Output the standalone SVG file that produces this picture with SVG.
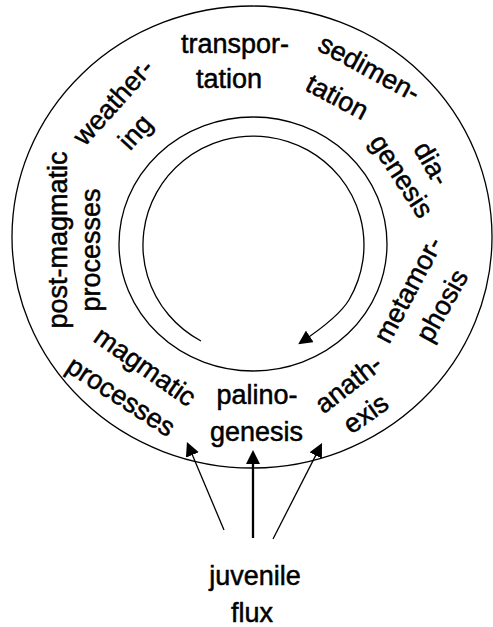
<svg xmlns="http://www.w3.org/2000/svg" width="493" height="627" viewBox="0 0 493 627">
<style>
text{font-family:"Liberation Sans",Arial,sans-serif;font-size:27px;fill:#000;stroke:#000;stroke-width:0.5;stroke-linejoin:round;text-anchor:middle}
.ring{fill:none;stroke:#000;stroke-width:1.3}
.thin{fill:none;stroke:#000;stroke-width:1.3}
.thick{fill:none;stroke:#000;stroke-width:2.3}
</style>
<defs>
<marker id="ah" markerUnits="userSpaceOnUse" markerWidth="14" markerHeight="14" viewBox="0 0 14 14" refX="10" refY="7" orient="auto">
<path d="M0,0 L14,7 L0,14 z" fill="#000"/>
</marker>
</defs>
<rect width="493" height="627" fill="#fff"/>
<g id="shapes">
<ellipse class="ring" cx="252" cy="237" rx="240" ry="231"/>
<ellipse class="ring" cx="253" cy="244" rx="134" ry="127"/>
</g>
<g id="connectors">
<path class="thin" d="M201,341 A110.5,109 0 1 1 349.2,299.5 Q339.1,316.8 301.5,342" marker-end="url(#ah)"/>
<line class="thick" x1="253" y1="538" x2="253" y2="454" marker-end="url(#ah)"/>
<line class="thin" x1="224" y1="530" x2="188.5" y2="445.7" marker-end="url(#ah)"/>
<line class="thin" x1="273" y1="539" x2="320.2" y2="446.6" marker-end="url(#ah)"/>
</g>
<g id="transportation">
<text x="235" y="53">transpor-</text>
<text x="229" y="88">tation</text>
</g>
<g id="sedimentation">
<text transform="translate(365,76) rotate(28.5)">sedimen-</text>
<text transform="translate(333,105) rotate(28)">tation</text>
</g>
<g id="diagenesis">
<text transform="translate(424,168) rotate(60)">dia-</text>
<text transform="translate(394,181) rotate(57)">genesis</text>
</g>
<g id="metamorphosis">
<text transform="translate(416,294) rotate(-62)">metamor-</text>
<text transform="translate(450,310) rotate(-61)">phosis</text>
</g>
<g id="anathexis">
<text transform="translate(354,391) rotate(-38)">anath-</text>
<text transform="translate(371,421) rotate(-35)">exis</text>
</g>
<g id="palinogenesis">
<text x="257" y="404">palino-</text>
<text x="256.5" y="441">genesis</text>
</g>
<g id="magmatic-processes">
<text transform="translate(140,374) rotate(35)">magmatic</text>
<text transform="translate(116,404) rotate(33)">processes</text>
</g>
<g id="post-magmatic-processes">
<text transform="translate(66.5,240) rotate(-90)">post-magmatic</text>
<text transform="translate(100,250) rotate(-90)">processes</text>
</g>
<g id="weathering">
<text transform="translate(120,108) rotate(-48)">weather-</text>
<text transform="translate(142,138) rotate(-48)">ing</text>
</g>
<g id="juvenile-flux">
<text x="255" y="585">juvenile</text>
<text x="252" y="622">flux</text>
</g>
</svg>
